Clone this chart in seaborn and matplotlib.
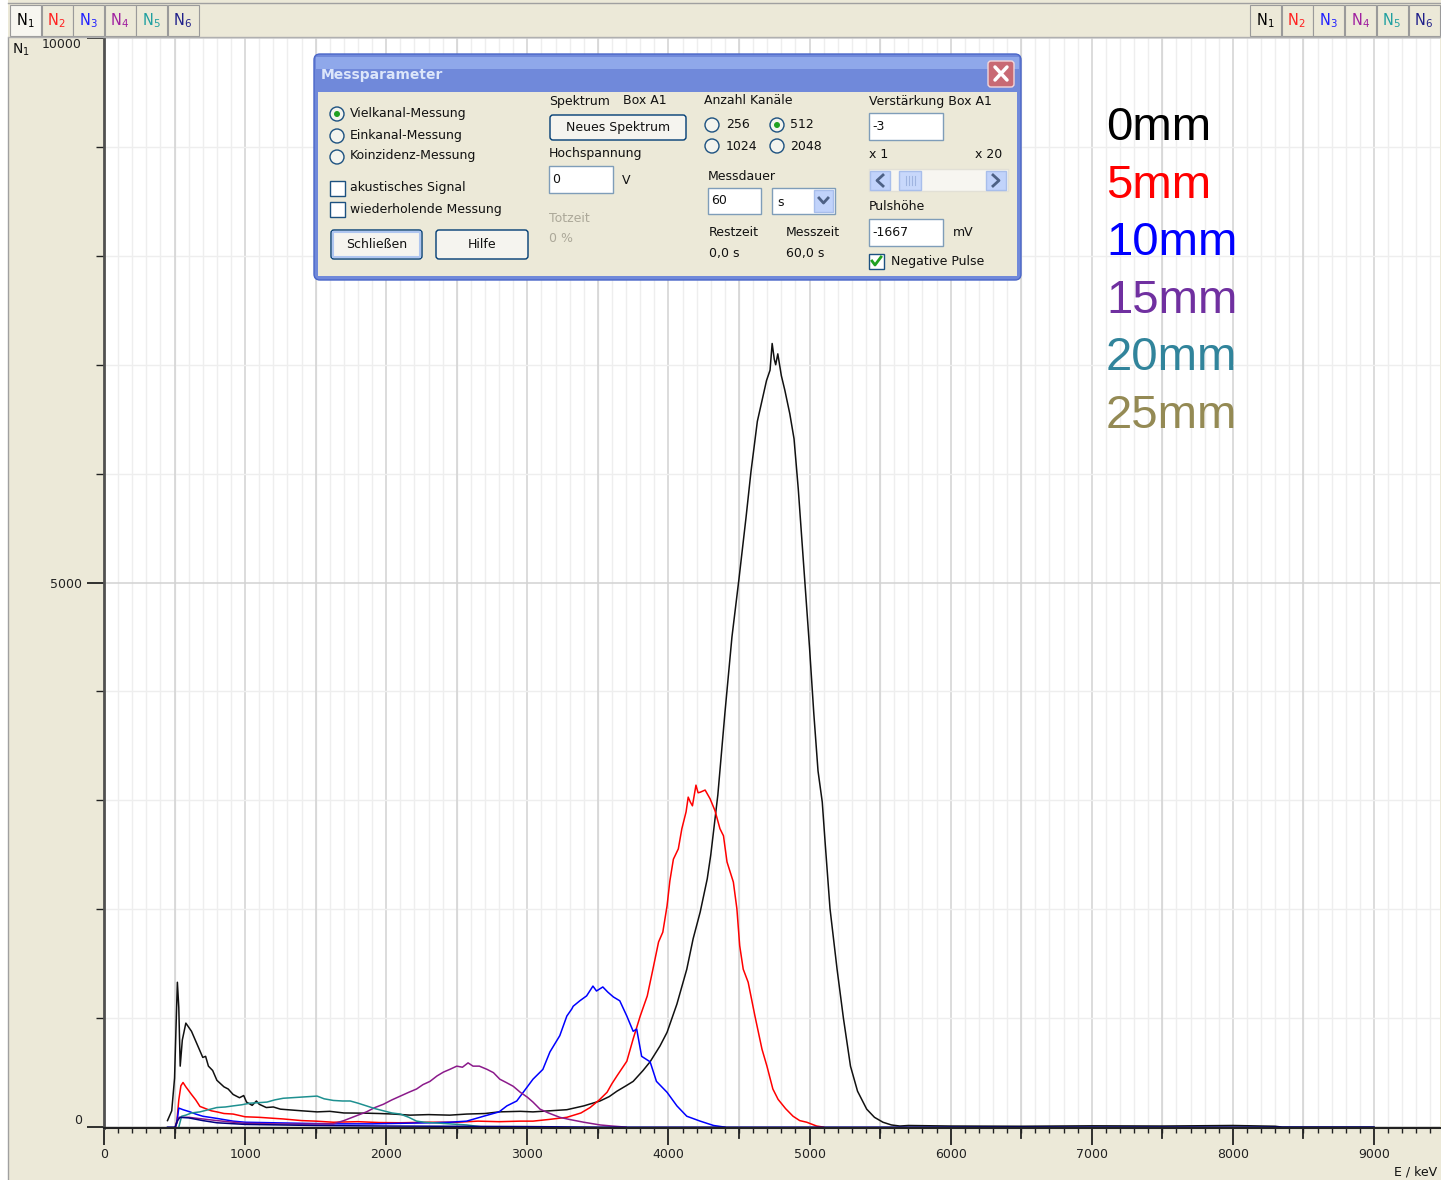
import numpy as np
import pandas as pd
import matplotlib
matplotlib.use('Agg')
import matplotlib.pyplot as plt
import matplotlib.transforms as mtransforms
from matplotlib.patches import Rectangle, FancyBboxPatch, Circle
from matplotlib.ticker import MultipleLocator, FixedLocator
import seaborn as sns

W, H = 1441, 1180

# alpha spectra: energy in keV, counts N
e_0mm = [450, 480, 500, 510, 520, 530, 540, 555, 580, 620, 660, 700, 720, 740, 770, 800, 850, 880,
         915, 960, 990, 1010, 1050, 1080, 1100, 1150, 1200, 1250, 1300, 1400, 1510, 1600, 1700,
         1860, 1950, 2050, 2170, 2300, 2450, 2570, 2700, 2800, 2950, 3040, 3160, 3280, 3400, 3515,
         3580, 3635, 3700, 3750, 3820, 3870, 3940, 3990, 4060, 4130, 4175, 4225, 4275, 4300, 4350,
         4400, 4450, 4500, 4550, 4585, 4630, 4695, 4720, 4735, 4750, 4760, 4775, 4800, 4825, 4860,
         4890, 4920, 4955, 5000, 5030, 5060, 5090, 5110, 5145, 5195, 5240, 5290, 5340, 5405, 5460,
         5520, 5580, 5640, 5700, 6000, 6500, 7000, 7500, 8000, 8300, 8350, 9000]
n_0mm = [60, 150, 450, 900, 1330, 1100, 560, 800, 955, 880, 760, 640, 650, 560, 520, 430, 370, 350,
         300, 270, 290, 230, 200, 240, 210, 180, 185, 165, 160, 150, 140, 145, 130,
         128, 125, 120, 110, 115, 110, 120, 125, 140, 145, 140, 150, 160, 195, 240,
         280, 330, 380, 420, 520, 600, 745, 870, 1130, 1450, 1730, 1975, 2280, 2500, 3050,
         3800, 4500, 5036, 5600, 6020, 6480, 6855, 6950, 7195, 7050, 7000, 7100, 6900, 6765, 6550,
         6320, 5860, 5220, 4400, 3800, 3270, 2985, 2620, 2005, 1450, 1000, 560, 330, 165, 90,
         45, 20, 10, 15, 10, 8, 12, 10, 15, 8, 0, 0]

e_5mm = [505, 517, 530, 545, 560, 580, 620, 650, 680, 720, 760, 800, 850, 915, 1000, 1100, 1270,
         1400, 1500, 1625, 1800, 1950, 2100, 2300, 2500, 2650, 2800, 2950, 3040, 3150, 3280, 3380,
         3445, 3510, 3565, 3600, 3635, 3705, 3750, 3800, 3850, 3890, 3930, 3960, 3990, 4010, 4035,
         4070, 4095, 4125, 4140, 4155, 4170, 4195, 4210, 4225, 4260, 4295, 4330, 4365, 4390, 4415,
         4460, 4485, 4505, 4530, 4565, 4613, 4663, 4698, 4740, 4777, 4830, 4883, 4930, 4980, 5050,
         5100]
n_5mm = [0, 60, 250, 380, 410, 370, 300, 250, 190, 170, 150, 140, 125, 120, 95, 90, 75,
         60, 55, 45, 50, 42, 40, 45, 45, 55, 50, 55, 55, 70, 90, 130,
         180, 250, 320, 400, 470, 605, 810, 1020, 1205, 1450, 1700, 1790, 2030, 2260, 2460,
         2555, 2740, 2895, 3030, 2985, 2950, 3140, 3070, 3075, 3095, 3015, 2905, 2740, 2675, 2435,
         2250, 2005, 1665, 1450, 1330, 1020, 715, 560, 350, 255, 170, 100, 60, 45, 10,
         0]

e_10mm = [505, 517, 530, 560, 610, 650, 700, 800, 915, 1000, 1200, 1400, 1625, 1900, 2100, 2330,
          2450, 2570, 2690, 2800, 2855, 2925, 3040, 3110, 3160, 3230, 3280, 3315, 3325, 3372, 3420,
          3465, 3490, 3535, 3570, 3610, 3655, 3705, 3750, 3775, 3810, 3870, 3915, 3990, 4060, 4130,
          4225, 4320, 4400]
n_10mm = [0, 50, 175, 160, 140, 120, 100, 80, 55, 45, 40, 35, 30, 30, 35, 40,
          45, 55, 100, 140, 195, 240, 440, 530, 690, 840, 1020, 1085, 1110, 1160, 1205,
          1295, 1250, 1287, 1240, 1195, 1160, 1020, 880, 900, 650, 600, 420, 320, 195, 100,
          55, 15, 0]

e_15mm = [505, 517, 530, 600, 700, 800, 915, 1000, 1200, 1400, 1625, 1700, 1780, 1860, 1920, 1980,
          2040, 2100, 2160, 2215, 2260, 2310, 2360, 2405, 2450, 2500, 2540, 2580, 2615, 2660, 2715,
          2760, 2805, 2850, 2900, 2950, 3000, 3040, 3090, 3150, 3230, 3300, 3400, 3515, 3600, 3700]
n_15mm = [0, 40, 90, 90, 75, 60, 45, 35, 30, 28, 30, 60, 100, 140, 180, 210,
          250, 285, 320, 350, 390, 420, 470, 505, 530, 560, 550, 590, 560, 560, 530,
          500, 440, 410, 375, 320, 275, 230, 165, 130, 90, 70, 45, 20, 10, 0]

e_20mm = [530, 550, 580, 620, 680, 740, 800, 860, 915, 975, 1035, 1100, 1155, 1210, 1270, 1330,
          1390, 1450, 1510, 1560, 1625, 1690, 1745, 1800, 1860, 1920, 1980, 2040, 2100, 2160, 2215,
          2270, 2330, 2450, 2570, 2690]
n_20mm = [0, 100, 110, 130, 140, 160, 180, 185, 195, 205, 220, 225, 230, 250, 265, 270,
          275, 280, 285, 260, 245, 240, 240, 220, 195, 170, 150, 130, 120, 90, 55,
          45, 40, 30, 20, 0]

e_25mm = [450, 505, 520, 540, 600, 700, 800, 1000, 1500, 2000, 3000, 3500, 9000]
n_25mm = [0, 0, 60, 90, 85, 60, 40, 25, 15, 10, 5, 0, 0]

labels = ['0mm', '5mm', '10mm', '15mm', '20mm', '25mm']
line_colors = ['#111111', '#FF0000', '#0000FF', '#8B1A8B', '#1E9090', '#000080']
legend_colors = ['#000000', '#FF0000', '#0000FF', '#7030A0', '#31849B', '#948A54']
tab_names = ['N$_1$', 'N$_2$', 'N$_3$', 'N$_4$', 'N$_5$', 'N$_6$']
tab_colors = ['#000000', '#FF2020', '#2020FF', '#A020A0', '#20A0A0', '#20208A']

energies = [e_0mm, e_5mm, e_10mm, e_15mm, e_20mm, e_25mm]
counts = [n_0mm, n_5mm, n_10mm, n_15mm, n_20mm, n_25mm]
df = pd.concat([pd.DataFrame({'E': e, 'N': n, 'series': lab})
                for e, n, lab in zip(energies, counts, labels)], ignore_index=True)

UI = '#ECE9D8'
fig = plt.figure(figsize=(W / 100, H / 100), dpi=100, facecolor='white')

# background panels (gray window area)
bg = fig.add_axes([0, 0, 1, 1])
bg.set_xlim(0, W)
bg.set_ylim(H, 0)
bg.axis('off')
bg.add_patch(Rectangle((8, 0), W - 8, H, fc=UI, ec='none'))
bg.plot([8, 8], [38, H], color='#A0A0A0', lw=1)

# main spectrum axes
ax = fig.add_axes([104 / W, (H - 1128) / H, (1440 - 104) / W, (1128 - 38) / H])
ax.set_zorder(1)
ax.set_facecolor('white')
sns.lineplot(data=df, x='E', y='N', hue='series', palette=dict(zip(labels, line_colors)),
             estimator=None, sort=False, legend=False, lw=1.1, ax=ax)

ax.set_xlabel('')
ax.set_ylabel('')
for s in ['top', 'right']:
    ax.spines[s].set_visible(False)
ax.spines['left'].set_color('#505050')
ax.spines['left'].set_linewidth(2)
ax.spines['bottom'].set_color('#222222')
ax.spines['bottom'].set_linewidth(1.5)

ax.xaxis.set_major_locator(MultipleLocator(1000))
ax.xaxis.set_minor_locator(MultipleLocator(100))
ax.yaxis.set_major_locator(FixedLocator([0, 5000, 10000]))
ax.yaxis.set_minor_locator(MultipleLocator(1000))
ax.set_yticklabels(['0', '5000', '10000'])
ax.tick_params(axis='x', which='major', length=12.5, width=1.3, pad=2, labelsize=9, colors='#222222')
ax.tick_params(axis='x', which='minor', length=3.8, width=1, colors='#222222')
ax.tick_params(axis='y', which='major', length=12, width=1.3, pad=4, labelsize=9, colors='#222222')
ax.tick_params(axis='y', which='minor', length=6, width=1, colors='#222222')
ylabs = ax.get_yticklabels()
ylabs[0].set_verticalalignment('bottom')
ylabs[-1].set_verticalalignment('top')

ax.set_axisbelow(True)
ax.grid(which='minor', color='#EEEEEE', lw=1)
ax.grid(which='major', color='#D2D2D2', lw=1.1)
for v in range(500, 9500, 1000):
    ax.axvline(v, color='#D2D2D2', lw=1.1, zorder=0.6)

trans = mtransforms.blended_transform_factory(ax.transData, ax.transAxes)
for v in range(500, 9500, 1000):
    ax.plot([v, v], [0, -10 / 1090], transform=trans, color='#222222', lw=1.3, clip_on=False)
ax.set_xlim(0, 1336 / 0.141111)
ax.set_ylim(-8, 10000)

# overlay: toolbar, dialog window, legend text
ov = fig.add_axes([0, 0, 1, 1])
ov.set_zorder(5)
ov.set_xlim(0, W)
ov.set_ylim(H, 0)
ov.axis('off')
ov.patch.set_alpha(0)

ov.plot([8, 1440], [3, 3], color='#A0A0A0', lw=1)
ov.plot([8, 1440], [37, 37], color='#B0B0B0', lw=1)
for i, (name, col) in enumerate(zip(tab_names, tab_colors)):
    for x0 in (10 + i * 31.5, 1250 + i * 31.7):
        fc = '#F7F6F0' if (i == 0 and x0 < 100) else UI
        ov.add_patch(Rectangle((x0, 5), 31, 31, fc=fc, ec='#9A9A9A', lw=0.8))
        ov.text(x0 + 15, 21, name, color=col, fontsize=10.5, ha='center', va='center')

ov.text(12, 50, 'N$_1$', fontsize=10, va='center', ha='left', color='#111111')
ov.text(1437, 1172, 'E / keV', fontsize=9, ha='right', va='center', color='#111111')

# legend
for i, (lab, col) in enumerate(zip(labels, legend_colors)):
    ov.text(1106, 128 + i * 57.6, lab, color=col, fontsize=34, family='Liberation Sans',
            ha='left', va='center')

# dialog window
ov.add_patch(FancyBboxPatch((314, 54), 707, 226, boxstyle='round,pad=0,rounding_size=6',
                            fc='#7089DA', ec='#4A66C8', lw=1))
ov.add_patch(Rectangle((316, 57), 703, 12, fc='#8FA8EA', ec='none'))
ov.add_patch(Rectangle((318, 92), 699, 184, fc=UI, ec='none'))
ov.text(321, 75, 'Messparameter', fontsize=10, weight='bold', color='#DCE6FA', va='center')
ov.add_patch(FancyBboxPatch((988, 61), 26, 26, boxstyle='round,pad=0,rounding_size=3',
                            fc='#C86A74', ec='#F2D6D9', lw=1))
ov.plot([995, 1007], [67, 80], color='white', lw=2.5, solid_capstyle='round')
ov.plot([1007, 995], [67, 80], color='white', lw=2.5, solid_capstyle='round')

FS = 9


def txt(x, y, s, color='#111111'):
    ov.text(x, y, s, fontsize=FS, color=color, ha='left', va='center')


def radio(x, y, on=False):
    ov.add_patch(Circle((x, y), 7, fc='#F4F4EE', ec='#1C5180', lw=1))
    if on:
        ov.add_patch(Circle((x, y), 3, fc='#21A121', ec='none'))


def check(x, y, on=False):
    ov.add_patch(Rectangle((x, y), 15, 15, fc='white', ec='#1C5180', lw=1))
    if on:
        ov.plot([x + 3, x + 6, x + 12], [y + 7, y + 11, y + 3], color='#21A121', lw=2)


def field(x0, y0, x1, y1, s=''):
    ov.add_patch(Rectangle((x0, y0), x1 - x0, y1 - y0, fc='white', ec='#7F9DB9', lw=1))
    txt(x0 + 3, (y0 + y1) / 2, s)


def button(x0, y0, x1, y1, s, focus=False):
    ov.add_patch(FancyBboxPatch((x0, y0), x1 - x0, y1 - y0, boxstyle='round,pad=0,rounding_size=3',
                                fc='#F5F4EF', ec='#003C74', lw=1))
    if focus:
        ov.add_patch(Rectangle((x0 + 2, y0 + 2), x1 - x0 - 4, y1 - y0 - 4, fc='none', ec='#AFC6F0', lw=1.5))
    ov.text((x0 + x1) / 2, (y0 + y1) / 2, s, fontsize=FS, color='#111111', ha='center', va='center')


radio(337, 114, True)
radio(337, 136)
radio(337, 157)
txt(350, 114, 'Vielkanal-Messung')
txt(350, 135, 'Einkanal-Messung')
txt(350, 156, 'Koinzidenz-Messung')
check(330, 181)
check(330, 202)
txt(350, 188, 'akustisches Signal')
txt(350, 209, 'wiederholende Messung')
button(331, 230, 422, 259, 'Schließen', focus=True)
button(436, 230, 528, 259, 'Hilfe')

txt(549, 101, 'Spektrum')
txt(623, 101, 'Box A1')
button(550, 115, 686, 140, 'Neues Spektrum')
txt(549, 154, 'Hochspannung')
field(549, 166, 613, 193, '0')
txt(622, 180, 'V')
txt(549, 218, 'Totzeit', color='#ACA899')
txt(549, 238, '0 %', color='#ACA899')

txt(704, 101, 'Anzahl Kanäle')
radio(712, 125)
txt(726, 125, '256')
radio(777, 125, True)
txt(790, 125, '512')
radio(712, 146)
txt(726, 146, '1024')
radio(777, 146)
txt(790, 146, '2048')
txt(708, 176, 'Messdauer')
field(708, 188, 761, 214, '60')
ov.add_patch(Rectangle((772, 188), 63, 26, fc='white', ec='#7F9DB9', lw=1))
txt(777, 203, 's')
ov.add_patch(Rectangle((814, 190), 19, 22, fc='#C1D3FB', ec='#A8BEEB', lw=1))
ov.plot([819, 823.5, 828], [198, 203, 198], color='#4D6185', lw=2)
txt(709, 233, 'Restzeit')
txt(709, 254, '0,0 s')
txt(786, 233, 'Messzeit')
txt(786, 254, '60,0 s')

txt(869, 101, 'Verstärkung Box A1')
field(869, 113, 943, 140, '-3')
txt(869, 154, 'x 1')
txt(975, 154, 'x 20')
ov.add_patch(Rectangle((869, 169), 139, 22, fc='#F7F6F1', ec='#E2E0D6', lw=1))
ov.add_patch(Rectangle((870, 171), 20, 19, fc='#C1D3FB', ec='#A8BEEB', lw=1))
ov.plot([883, 877, 883], [175, 180.5, 186], color='#4D6185', lw=2)
ov.add_patch(Rectangle((899, 171), 22, 19, fc='#C8D8FB', ec='#A8BEEB', lw=1))
for xx in (906, 909, 912, 915):
    ov.plot([xx, xx], [176, 185], color='#9FB4E0', lw=0.8)
ov.add_patch(Rectangle((986, 171), 20, 19, fc='#C1D3FB', ec='#A8BEEB', lw=1))
ov.plot([993, 999, 993], [175, 180.5, 186], color='#4D6185', lw=2)
txt(869, 207, 'Pulshöhe')
field(869, 219, 943, 246, '-1667')
txt(953, 232, 'mV')
check(869, 254, True)
txt(891, 262, 'Negative Pulse')

fig.savefig('out.png', dpi=100, facecolor=fig.get_facecolor())
